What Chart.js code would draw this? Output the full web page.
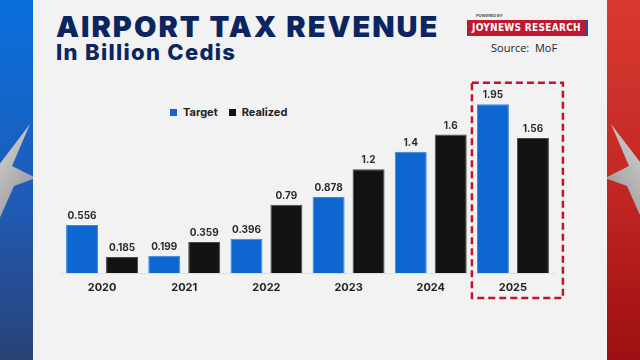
<!DOCTYPE html>
<html lang="en">
<head>
<meta charset="UTF-8">
<title>Airport Tax Revenue</title>
<style>
    body { margin: 0; width: 640px; height: 360px; overflow: hidden; position: relative; font-family: Inter, "Noto Sans", sans-serif; }
    .side { position: absolute; top: 0; width: 33px; height: 360px; overflow: hidden; }
    .left { left: 0; background: linear-gradient(#0a6fdc, #1e5cb8 55%, #2b4275); }
    .right { right: 0; width: 33px; background: linear-gradient(#d83a31, #c42824 50%, #9d0f12); }
    .panel { position: absolute; left: 33px; top: 0; width: 574px; height: 360px; background: #f2f2f2; }
    h1 { position: absolute; left: 56px; top: 9px; margin: 0; font-size: 29px; font-weight: 900; color: #0b2560; letter-spacing: 2px; white-space: nowrap; }
    h2 { position: absolute; left: 56px; top: 39px; margin: 0; font-size: 22px; font-weight: 800; color: #0b2560; letter-spacing: 1.3px; white-space: nowrap; }
    .powered { position: absolute; left: 476px; top: 13px; font-size: 4px; font-weight: 700; color: #555; }
    .brand { position: absolute; left: 467px; top: 20px; width: 119px; height: 16px; background: #c0182f; border-right: 2px solid #1f4fb5; white-space: nowrap;
             color: #fff; font: bold 10px "Liberation Sans Narrow", "DejaVu Sans Condensed", sans-serif; line-height: 16px; text-align: center; letter-spacing: 0.3px; }
    .source { position: absolute; left: 491px; top: 40px; font-size: 11px; color: #222; font-family: "Open Sans", sans-serif; }
    .legend { position: absolute; left: 170px; top: 105px; font-size: 11px; font-weight: 700; color: #222; display: flex; align-items: center; }
    .legend i { display: inline-block; width: 7px; height: 7px; margin-right: 6px; }
    .legend span { margin-right: 11px; }
    canvas { position: absolute; left: 0; top: 0; }
</style>
</head>
<body>
<div class="side left">
    <svg width="33" height="360">
        <defs><linearGradient id="sl" x1="0" y1="0" x2="1" y2="1"><stop offset="0" stop-color="#eeeeee"/><stop offset="1" stop-color="#8a8a8a"/></linearGradient></defs>
        <polygon points="36,178 14,186 -2,222 -6,186 -30,160 -2,166 30,124 12,166" fill="url(#sl)"/>
    </svg>
</div>
<div class="side right">
    <svg width="33" height="360">
        <defs><linearGradient id="sr" x1="1" y1="0" x2="0" y2="1"><stop offset="0" stop-color="#eeeeee"/><stop offset="1" stop-color="#8a8a8a"/></linearGradient></defs>
        <polygon points="-2,178 20,186 36,222 40,186 64,160 36,166 4,124 22,166" fill="url(#sr)"/>
    </svg>
</div>
<div class="panel"></div>
<h1>AIRPORT TAX REVENUE</h1>
<h2>In Billion Cedis</h2>
<div class="powered">POWERED BY</div>
<div class="brand">JOYNEWS RESEARCH</div>
<div class="source">Source:&nbsp; MoF</div>
<div class="legend"><i style="background:#0e66d0"></i><span>Target</span><i style="background:#131313"></i><span>Realized</span></div>

<canvas id="chart" width="640" height="360"></canvas>

<script src="https://cdn.jsdelivr.net/npm/chart.js"></script>
<script>
    const years = ['2020', '2021', '2022', '2023', '2024', '2025'];
    const target = [0.556, 0.199, 0.396, 0.878, 1.4, 1.95];
    const realized = [0.185, 0.359, 0.79, 1.2, 1.6, 1.56];

    // value labels above bars
    const valueLabels = {
        id: 'valueLabels',
        afterDatasetsDraw(chart) {
            const ctx = chart.ctx;
            ctx.save();
            ctx.font = 'bold 10px Inter, sans-serif';
            ctx.fillStyle = '#2a2a2a';
            ctx.textAlign = 'center';
            ctx.textBaseline = 'bottom';
            chart.data.datasets.forEach((ds, i) => {
                chart.getDatasetMeta(i).data.forEach((bar, j) => {
                    ctx.fillText(String(ds.data[j]), bar.x, bar.y - 4);
                });
            });
            ctx.restore();
        }
    };

    // dashed highlight round the last year
    const highlight = {
        id: 'highlight',
        afterDraw(chart) {
            const x = chart.scales.x, y = chart.scales.y;
            const c = x.getPixelForValue(years.length - 1);
            const ctx = chart.ctx;
            ctx.save();
            ctx.strokeStyle = '#c8102e';
            ctx.lineWidth = 2.5;
            ctx.setLineDash([7, 4]);
            ctx.strokeRect(c - 41, y.getPixelForValue(2.2), 91, 298 - y.getPixelForValue(2.2));
            ctx.restore();
        }
    };

    new Chart(document.getElementById('chart'), {
        type: 'bar',
        data: {
            labels: years,
            datasets: [{
                label: 'Target',
                data: target,
                backgroundColor: '#0e66d0',
                borderColor: '#3d86e2',
                borderWidth: 1
            }, {
                label: 'Realized',
                data: realized,
                backgroundColor: '#131313',
                borderColor: '#4a4a4a',
                borderWidth: 1
            }]
        },
        options: {
            responsive: false,
            animation: false,
            barPercentage: 0.8,
            categoryPercentage: 0.973,
            layout: { padding: { left: 61, right: 86, top: 74, bottom: 57 } },
            plugins: { legend: { display: false }, tooltip: { enabled: false } },
            scales: {
                x: {
                    afterFit(axis) { axis.height = 30; },
                    grid: { display: false },
                    border: { display: true, color: 'rgba(0,0,0,0.08)' },
                    ticks: { color: '#222', padding: 0, font: { family: 'Inter', size: 11, weight: 'bold' } }
                },
                y: { display: false, min: 0, max: 2.3 }
            }
        },
        plugins: [valueLabels, highlight]
    });
</script>
</body>
</html>
